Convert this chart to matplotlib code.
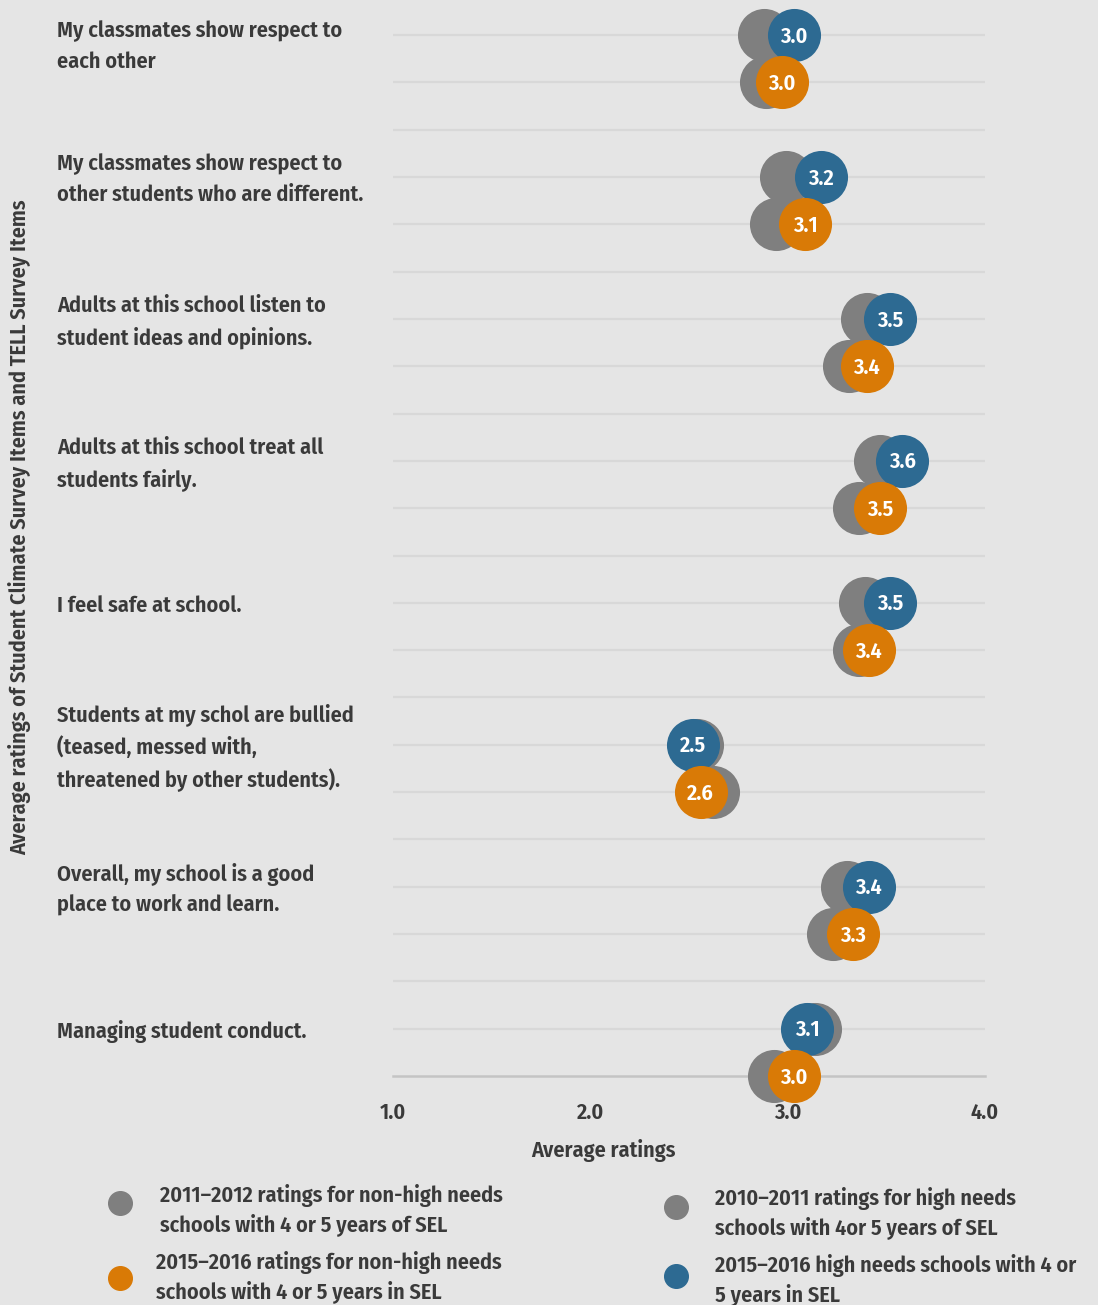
import matplotlib.pyplot as plt
import matplotlib.transforms as mtransforms
from matplotlib.lines import Line2D

plt.rcParams['font.family'] = ['Fira Sans Condensed', 'DejaVu Sans']
plt.rcParams['font.weight'] = 'semibold'

items = [
    "My classmates show respect to\neach other",
    "My classmates show respect to\nother students who are different.",
    "Adults at this school listen to\nstudent ideas and opinions.",
    "Adults at this school treat all\nstudents fairly.",
    "I feel safe at school.",
    "Students at my schol are bullied\n(teased, messed with,\nthreatened by other students).",
    "Overall, my school is a good\nplace to work and learn.",
    "Managing student conduct.",
]
# top row of each item: high needs schools
high_1011 = [2.88, 2.99, 3.40, 3.47, 3.39, 2.54, 3.30, 3.14]
high_1516 = [3.03, 3.17, 3.52, 3.58, 3.52, 2.52, 3.41, 3.10]
# bottom row of each item: non-high needs schools
non_1112 = [2.89, 2.94, 3.31, 3.36, 3.36, 2.62, 3.23, 2.93]
non_1516 = [2.97, 3.09, 3.40, 3.47, 3.41, 2.56, 3.33, 3.03]

xticks = [1.0, 2.0, 3.0, 4.0]

legend_labels = [
    "2011\u20132012 ratings for non-high needs\nschools with 4 or 5 years of SEL",
    "2015\u20132016 ratings for non-high needs\nschools with 4 or 5 years in SEL",
    "2010\u20132011 ratings for high needs\nschools with 4or 5 years of SEL",
    "2015\u20132016 high needs schools with 4 or\n5 years in SEL",
]

bg = '#e5e5e5'
grey = '#7f7f7f'
blue = '#2d6a92'
orange = '#d97a06'
txt = '#3a3a3a'
W, H = 1098, 1305

fig = plt.figure(figsize=(W / 100, H / 100), dpi=100, facecolor=bg)
ax = fig.add_axes([393 / W, 1 - 1076 / H, 592 / W, (1076 - 9) / H])
ax.set_facecolor(bg)

n = len(items)
top = [3 * i for i in range(n)]
bot = [3 * i + 1 for i in range(n)]

# horizontal guide lines on every slot
for s in range(3 * n - 2):
    ax.axhline(s, color='#d8d8d8', lw=1.6, zorder=0)

size = 1460
ax.scatter(high_1011, top, s=size, color=grey, lw=0, zorder=3, clip_on=False)
ax.scatter(non_1112, bot, s=size, color=grey, lw=0, zorder=3, clip_on=False)
ax.scatter(high_1516, top, s=size, color=blue, lw=0, zorder=4, clip_on=False)
ax.scatter(non_1516, bot, s=size, color=orange, lw=0, zorder=4, clip_on=False)

for xs, ys in [(high_1516, top), (non_1516, bot)]:
    for v, y in zip(xs, ys):
        ax.text(v, y + 0.03, f"{v:.1f}", color='white', fontsize=16, fontweight='semibold',
                ha='center', va='center', zorder=5, clip_on=False)

# item labels sit to the left of the plot, centred on the top row
lab_tr = mtransforms.blended_transform_factory(fig.transFigure, ax.transData)
for i, (label, y) in enumerate(zip(items, top)):
    dy = 0.25 if i == 0 else 0.06
    ax.text(57 / W, y + dy, label, transform=lab_tr, color=txt, clip_on=False,
            fontsize=16, fontweight='semibold', ha='left', va='center', linespacing=1.55)

ax.set_xlim(1.0, 4.0)
ax.set_ylim(3 * n - 2, -0.55)
ax.set_xticks(xticks)
ax.set_xticklabels([f"{t:.1f}" for t in xticks])
ax.set_yticks([])
ax.tick_params(axis='x', length=0, pad=19, labelsize=16, labelcolor=txt)
for s in ['top', 'left', 'right']:
    ax.spines[s].set_visible(False)
ax.spines['bottom'].set_color('#c4c4c4')
ax.spines['bottom'].set_linewidth(1.8)
ax.spines['bottom'].set_zorder(1)

fig.text(603 / W, 1 - 1150 / H, "Average ratings", ha='center', va='center',
         fontsize=16, fontweight='semibold', color=txt)
fig.text(20 / W, 1 - 527 / H,
         "Average ratings of Student Climate Survey Items and TELL Survey Items",
         rotation=90, ha='center', va='center', fontsize=16, fontweight='semibold', color=txt)

# legend
entries = [
    (120, 1203, 160, 1210, grey, legend_labels[0]),
    (120, 1278, 156, 1277, orange, legend_labels[1]),
    (676, 1207, 715, 1213, grey, legend_labels[2]),
    (676, 1276, 715, 1280, blue, legend_labels[3]),
]
for mx, my, tx, ty, c, lab in entries:
    fig.add_artist(Line2D([mx / W], [1 - my / H], marker='o', markersize=17,
                          color=c, lw=0, transform=fig.transFigure))
    fig.text(tx / W, 1 - ty / H, lab, ha='left', va='center', fontsize=16,
             fontweight='semibold', color=txt, linespacing=1.35)

fig.savefig('out.png', dpi=100, facecolor=bg)
